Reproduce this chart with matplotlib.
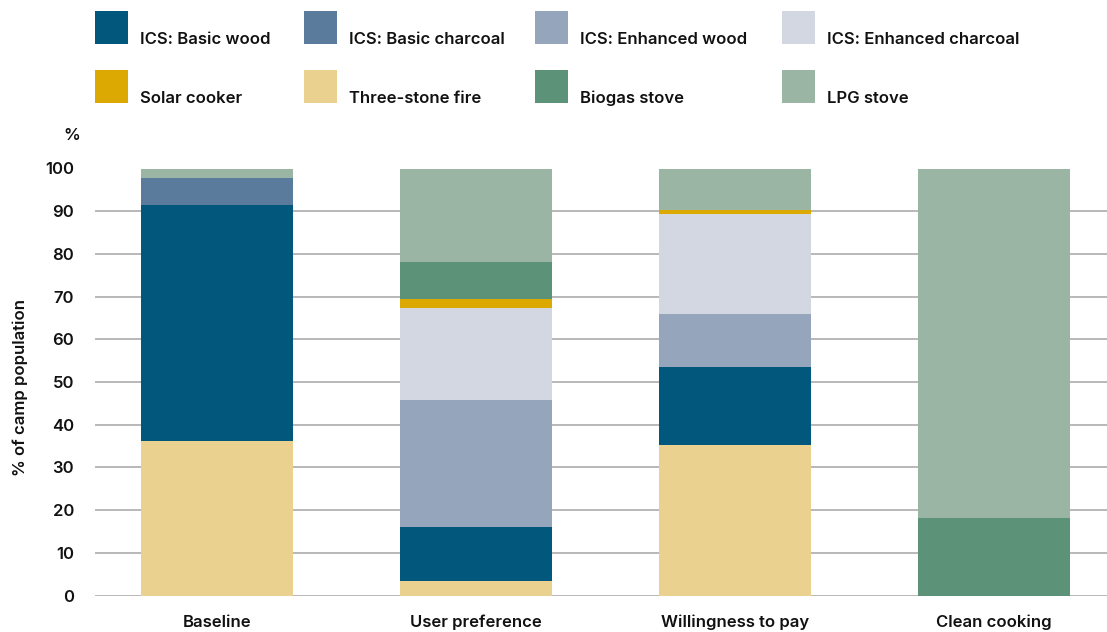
import matplotlib.pyplot as plt
import matplotlib.patches as mpatches
import numpy as np

plt.rcParams['font.family'] = ['Inter', 'DejaVu Sans']

# data (% of camp population), bottom to top of each stack
scenarios = ['Baseline', 'User preference', 'Willingness to pay', 'Clean cooking']
three_stone = [36.2, 3.4, 35.2, 0]
basic_wood = [55.2, 12.6, 18.3, 0]
basic_charcoal = [6.4, 0, 0, 0]
enhanced_wood = [0, 29.8, 12.4, 0]
enhanced_charcoal = [0, 21.6, 23.4, 0]
solar = [0, 2.1, 1.0, 0]
biogas = [0, 8.7, 0, 18.2]
lpg = [2.2, 21.8, 9.7, 81.8]

stack = [
    ('Three-stone fire', three_stone, '#ebd190'),
    ('ICS: Basic wood', basic_wood, '#01587c'),
    ('ICS: Basic charcoal', basic_charcoal, '#5a7b9c'),
    ('ICS: Enhanced wood', enhanced_wood, '#95a5bb'),
    ('ICS: Enhanced charcoal', enhanced_charcoal, '#d3d7e2'),
    ('Solar cooker', solar, '#dba901'),
    ('Biogas stove', biogas, '#5c9378'),
    ('LPG stove', lpg, '#9bb5a5'),
]
colors = {name: c for name, _, c in stack}

legend_order = ['ICS: Basic wood', 'ICS: Basic charcoal', 'ICS: Enhanced wood',
                'ICS: Enhanced charcoal', 'Solar cooker', 'Three-stone fire',
                'Biogas stove', 'LPG stove']

W, H = 1107, 632
fig = plt.figure(figsize=(W / 100, H / 100), dpi=100)
ax = fig.add_axes([95 / W, 36.5 / H, (W - 95) / W, 427 / H])

x = np.arange(len(scenarios))
bottom = np.zeros(len(scenarios))
for name, vals, c in stack:
    vals = np.array(vals, dtype=float)
    ax.bar(x, vals, 0.587, bottom=bottom, color=c, linewidth=0, zorder=3)
    bottom += vals

ax.set_xlim(-0.471, 3.436)
ax.set_ylim(0, 100)
ax.set_yticks(np.arange(0, 101, 10))
ax.yaxis.grid(True, color='#b8b8b8', linewidth=1.4, zorder=0)
ax.set_axisbelow(True)
for s in ax.spines.values():
    s.set_visible(False)
ax.tick_params(axis='y', length=0, pad=15, labelsize=12, colors='#111111')
ax.tick_params(axis='x', length=0, pad=14, labelsize=12, colors='#111111')
ax.set_xticks(x)
ax.set_xticklabels(scenarios, fontweight='semibold')
for lbl in ax.get_yticklabels():
    lbl.set_fontweight('semibold')

fig.text(20 / W, 1 - 387 / H, '% of camp population', rotation=90, ha='center',
         va='center', fontsize=12, fontweight='semibold', color='#111111')
fig.text(72 / W, 1 - 136 / H, '%', ha='center', va='center', fontsize=12,
         fontweight='semibold', color='#111111')

# legend: 2 rows x 4 columns of coloured squares
col_x = [95, 304, 535, 782]
row_top = [11, 70]
for i, name in enumerate(legend_order):
    r, cidx = divmod(i, 4)
    x0, y0 = col_x[cidx], row_top[r]
    fig.patches.append(mpatches.Rectangle((x0 / W, 1 - (y0 + 33) / H), 33 / W, 33 / H,
                                          transform=fig.transFigure,
                                          color=colors[name], linewidth=0))
    fig.text((x0 + 45) / W, 1 - (y0 + 33) / H, name, ha='left', va='baseline',
             fontsize=12, fontweight='semibold', color='#111111')

fig.savefig('out.png', dpi=100)
